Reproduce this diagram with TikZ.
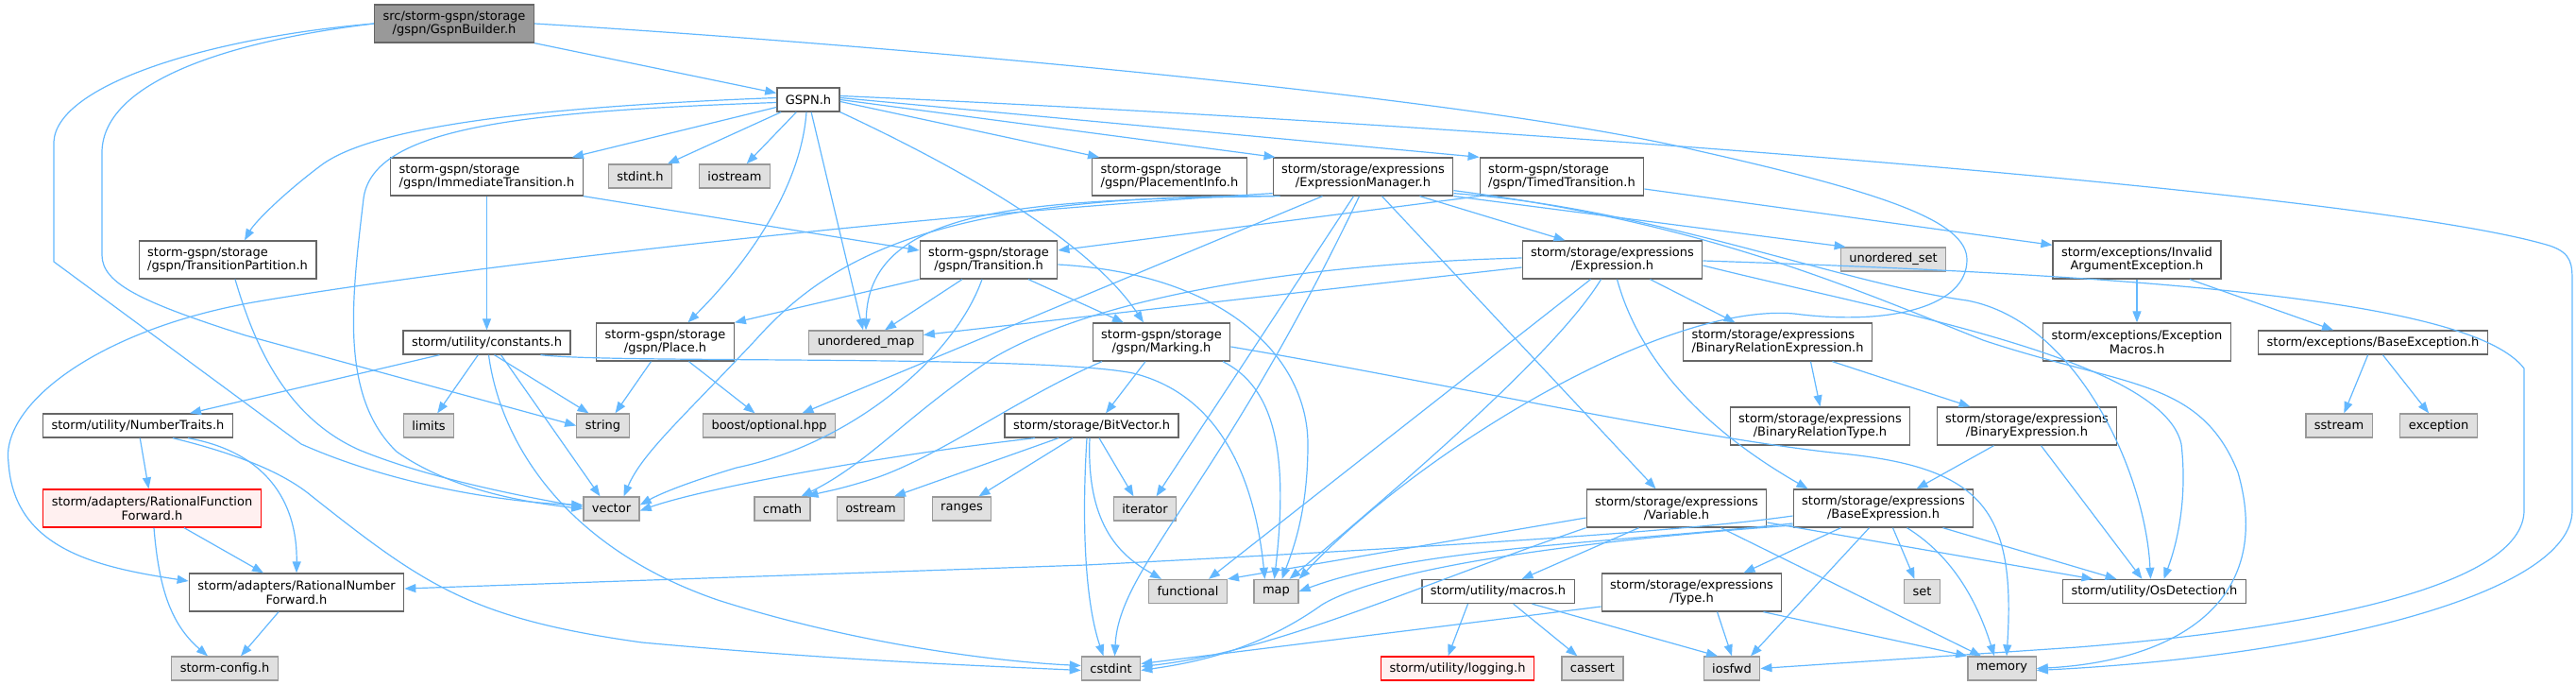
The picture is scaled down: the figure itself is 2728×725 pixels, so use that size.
\documentclass[tikz,border=0pt]{standalone}
\usepackage{fontspec}
\newfontfamily\dotfont{DejaVu Sans}
\usepackage{tikz}
\usetikzlibrary{arrows.meta,positioning}
\definecolor{edg}{HTML}{63B8FF}
\definecolor{bord}{HTML}{666666}
\definecolor{sysb}{HTML}{999999}
\definecolor{sysf}{HTML}{E0E0E0}
\definecolor{rootf}{HTML}{999999}
\definecolor{trf}{HTML}{FFF0F0}
\definecolor{trb}{HTML}{FF0000}
\tikzset{
  >={Triangle[length=12pt,width=9pt]},
  hdr/.style={draw=bord, line width=1.3pt, fill=white, font=\dotfont\fontsize{13}{14.5}\selectfont,
              inner xsep=9pt, inner ysep=3pt, minimum height=25pt},
  two/.style={hdr, align=center, minimum height=40pt},
  twol/.style={hdr, align=left, minimum height=40pt},
  sys/.style={hdr, fill=sysf, draw=sysb},
  root/.style={two, fill=rootf},
  trunc/.style={fill=trf, draw=trb},
  dep/.style={->, draw=edg, line width=1.2pt},
}
\begin{document}
\begin{tikzpicture}[x=1pt,y=-1pt]
  \useasboundingbox (0,0) rectangle (2728,725);
  % files
  \node[root] (gb) at (481,25) {src/storm-gspn/storage\\/gspn/GspnBuilder.h};
  \node[hdr] (gspn) at (856,105.5) {GSPN.h};
  \node[twol] (imtr) at (515.5,187) {storm-gspn/storage\\/gspn/ImmediateTransition.h};
  \node[sys] (stdint) at (678,186.5) {stdint.h};
  \node[sys] (iostream) at (778,186.5) {iostream};
  \node[twol] (plinfo) at (1238.5,187) {storm-gspn/storage\\/gspn/PlacementInfo.h};
  \node[two] (exman) at (1443.5,187) {storm/storage/expressions\\/ExpressionManager.h};
  \node[twol] (timtr) at (1654,187) {storm-gspn/storage\\/gspn/TimedTransition.h};
  \node[twol] (trpart) at (241,275) {storm-gspn/storage\\/gspn/TransitionPartition.h};
  \node[two] (trans) at (1047,275) {storm-gspn/storage\\/gspn/Transition.h};
  \node[two] (expr) at (1707.5,275) {storm/storage/expressions\\/Expression.h};
  \node[sys] (uset) at (2005,274.5) {unordered\_set};
  \node[two] (invarg) at (2263,275) {storm/exceptions/Invalid\\ArgumentException.h};
  \node[hdr] (consts) at (515.5,362.5) {storm/utility/constants.h};
  \node[two] (place) at (704.5,362) {storm-gspn/storage\\/gspn/Place.h};
  \node[sys] (umap) at (917,362.5) {unordered\_map};
  \node[two] (marking) at (1230,362) {storm-gspn/storage\\/gspn/Marking.h};
  \node[twol] (brexpr) at (1882.5,362) {storm/storage/expressions\\/BinaryRelationExpression.h};
  \node[two] (excmac) at (2263,362) {storm/exceptions/Exception\\Macros.h};
  \node[hdr] (baseexc) at (2513,362.5) {storm/exceptions/BaseException.h};
  \node[hdr] (numtr) at (146,450.5) {storm/utility/NumberTraits.h};
  \node[sys] (limits) at (454,450.5) {limits};
  \node[sys] (string) at (638.5,450.5) {string};
  \node[sys] (boost) at (814.5,450.5) {boost/optional.hpp};
  \node[hdr] (bitvec) at (1156,450.5) {storm/storage/BitVector.h};
  \node[two] (brtype) at (1927.5,451) {storm/storage/expressions\\/BinaryRelationType.h};
  \node[two] (binexpr) at (2146.5,451) {storm/storage/expressions\\/BinaryExpression.h};
  \node[sys] (sstream) at (2477,450.5) {sstream};
  \node[sys] (exception) at (2582.5,450.5) {exception};
  \node[two,trunc] (ratfun) at (161,538) {storm/adapters/RationalFunction\\Forward.h};
  \node[sys] (vector) at (647.5,538.5) {vector};
  \node[sys] (cmath) at (828.5,538.5) {cmath};
  \node[sys] (ostream) at (922,538.5) {ostream};
  \node[sys] (ranges) at (1018.5,538.5) {ranges};
  \node[sys] (iterator) at (1212.5,538.5) {iterator};
  \node[two] (variable) at (1775.5,538) {storm/storage/expressions\\/Variable.h};
  \node[two] (baseexpr) at (1994.5,538) {storm/storage/expressions\\/BaseExpression.h};
  \node[two] (ratnum) at (314,627) {storm/adapters/RationalNumber\\Forward.h};
  \node[sys] (functional) at (1258,626) {functional};
  \node[sys] (map) at (1351.5,626) {map};
  \node[hdr] (macros) at (1586.5,626) {storm/utility/macros.h};
  \node[two] (type) at (1791.5,627) {storm/storage/expressions\\/Type.h};
  \node[sys] (set) at (2035.5,626) {set};
  \node[hdr] (osdet) at (2281.5,626) {storm/utility/OsDetection.h};
  \node[sys] (stormcfg) at (238,707.5) {storm-config.h};
  \node[sys] (cstdint) at (1176.5,707.5) {cstdint};
  \node[hdr,trunc] (logging) at (1543.5,707.5) {storm/utility/logging.h};
  \node[sys] (cassert) at (1686.5,707.5) {cassert};
  \node[sys] (iosfwd) at (1834,707.5) {iosfwd};
  \node[sys] (memory) at (2120,707.5) {memory};
  % GspnBuilder.h
  \draw[dep] (gb.south east) -- (gspn);
  \draw[dep] (gb.west) .. controls (220,40) and (60,90) .. (57,150) -- (57,277) -- (319,470)
    .. controls (420,515) and (540,532) .. ([yshift=4pt]vector.west);
  \draw[dep] (gb.west) .. controls (230,45) and (110,90) .. (108,160) -- (108,270)
    .. controls (108,300) and (150,320) .. (260,355) -- (string.west);
  \draw[dep] (gb.east) .. controls (900,45) and (1550,100) .. (1800,160)
    .. controls (2000,205) and (2083,235) .. (2083,275) .. controls (2083,325) and (2000,345) .. (1900,332)
    .. controls (1760,320) and (1500,480) .. (map.north east);
  % GSPN.h
  \draw[dep] ([yshift=2pt]gspn.west) .. controls (600,112) and (400,130) .. (340,175)
    .. controls (300,205) and (270,235) .. ([xshift=18pt]trpart.north);
  \draw[dep] ([yshift=-3pt]gspn.west) .. controls (550,118) and (395,135) .. (385,210)
    .. controls (372,320) and (360,420) .. (420,478) .. controls (480,520) and (560,532) .. (vector.west);
  \draw[dep] ([yshift=-8pt]gspn.west) -- ([xshift=-12pt]imtr.north east);
  \draw[dep] (gspn) -- (stdint);
  \draw[dep] (gspn) -- (iostream);
  \draw[dep] ([xshift=-2pt]gspn.south) .. controls (848,200) and (790,280) .. ([xshift=24pt]place.north);
  \draw[dep] (gspn) -- ([xshift=-3pt]umap.north);
  \draw[dep] (gspn.south east) .. controls (1000,170) and (1150,250) .. ([xshift=-19pt]marking.north);
  \draw[dep] ([yshift=-2pt]gspn.east) -- ([xshift=8pt]plinfo.north west);
  \draw[dep] (gspn.east) -- ([xshift=3pt]exman.north west);
  \draw[dep] ([yshift=2pt]gspn.east) -- (timtr.north west);
  \draw[dep] ([yshift=4pt]gspn.east) .. controls (1500,128) and (2500,200) .. (2700,260)
    .. controls (2724,268) and (2724,280) .. (2724,300) -- (2724,540)
    .. controls (2724,630) and (2450,695) .. ([yshift=-2pt]memory.east);
  % ImmediateTransition.h, TransitionPartition.h, TimedTransition.h
  \draw[dep] (imtr) -- (consts);
  \draw[dep] (imtr.south east) -- ([yshift=10pt]trans.west);
  \draw[dep] ([xshift=8pt]trpart.south) .. controls (268,360) and (300,440) .. (380,476)
    .. controls (450,505) and (550,525) .. ([yshift=2pt]vector.west);
  \draw[dep] (timtr.south west) -- ([yshift=10pt]trans.east);
  \draw[dep] ([yshift=-13pt]timtr.east) -- ([yshift=-5pt]invarg.north west);
  % ExpressionManager.h
  \draw[dep] ([xshift=60pt]exman.south) -- ([xshift=-50pt]expr.north);
  \draw[dep] ([xshift=20pt]exman.south) -- ([xshift=-22pt]variable.north);
  \draw[dep] ([xshift=-10pt]exman.south) -- ([xshift=12pt]iterator.north);
  \draw[dep] ([xshift=-4pt]exman.south) .. controls (1290,520) and (1185,600) .. ([xshift=4pt]cstdint.north);
  \draw[dep] ([xshift=2pt]exman.south west) .. controls (1100,212) and (920,215) .. (umap.north);
  \draw[dep] ([xshift=8pt]exman.south west) .. controls (1000,205) and (880,270) .. (800,360)
    .. controls (720,445) and (680,480) .. ([xshift=13pt]vector.north);
  \draw[dep] ([xshift=-43pt]exman.south) -- ([xshift=35pt]boost.north);
  \draw[dep] ([yshift=3pt]exman.south west) .. controls (1000,225) and (500,280) .. (268,320)
    .. controls (100,350) and (0,430) .. (9,490) .. controls (15,580) and (100,600) .. ([yshift=12pt]ratnum.west);
  \draw[dep] (exman.south east) -- ([xshift=6pt]uset.north west);
  \draw[dep] ([yshift=3pt]exman.south east) .. controls (1750,220) and (1950,300) .. (2083,318)
    .. controls (2200,340) and (2272,500) .. ([xshift=-4pt]osdet.north);
  \draw[dep] ([yshift=6pt]exman.south east) .. controls (1800,235) and (1950,300) .. (2100,360)
    .. controls (2250,410) and (2330,400) .. (2370,500) .. controls (2410,640) and (2300,700) .. (memory.east);
  % Expression.h
  \draw[dep] ([yshift=-8pt]expr.west) -- ([yshift=8pt]umap.east);
  \draw[dep] ([yshift=2pt]expr.west) .. controls (1350,280) and (1150,320) .. (1050,380)
    .. controls (960,440) and (920,490) .. ([xshift=20pt]cmath.north);
  \draw[dep] ([xshift=40pt]expr.south) -- ([xshift=-45pt]brexpr.north);
  \draw[dep] ([xshift=5pt]expr.south) .. controls (1730,360) and (1780,440) .. ([xshift=-80pt]baseexpr.north);
  \draw[dep] ([xshift=-23pt]expr.south) -- ([xshift=22pt]functional.north);
  \draw[dep] ([xshift=-12pt]expr.south) .. controls (1650,370) and (1500,500) .. ([xshift=14pt]map.north);
  \draw[dep] ([yshift=-6pt]expr.east) .. controls (2000,330) and (2290,380) .. (2310,470)
    .. controls (2318,540) and (2300,590) .. ([xshift=10pt]osdet.north);
  \draw[dep] ([yshift=-1pt]expr.east) .. controls (2300,292) and (2620,320) .. (2673,390) -- (2673,540)
    .. controls (2673,620) and (2450,665) .. (2200,685) -- (iosfwd.east);
  % exceptions
  \draw[dep] (invarg) -- (excmac);
  \draw[dep] ([xshift=56pt]invarg.south) -- ([xshift=-42pt]baseexc.north);
  \draw[dep] (baseexc) -- (sstream);
  \draw[dep] (baseexc) -- (exception);
  % constants.h
  \draw[dep] ([xshift=-50pt]consts.south) -- ([xshift=55pt]numtr.north);
  \draw[dep] (consts) -- (limits);
  \draw[dep] ([xshift=8pt]consts.south) -- ([xshift=-15pt]string.north);
  \draw[dep] ([xshift=15pt]consts.south) -- ([xshift=-12pt]vector.north);
  \draw[dep] ([xshift=2pt]consts.south) .. controls (530,470) and (600,580) .. (760,635)
    .. controls (900,680) and (1050,700) .. ([yshift=3pt]cstdint.west);
  \draw[dep] ([xshift=57pt]consts.south) .. controls (650,385) and (1100,375) .. (1200,395)
    .. controls (1300,420) and (1330,520) .. ([xshift=-12pt]map.north);
  % NumberTraits.h, adapters
  \draw[dep] (numtr) -- (ratfun);
  \draw[dep] ([xshift=53pt]numtr.south) .. controls (290,480) and (315,540) .. (ratnum.north);
  \draw[dep] ([xshift=37pt]numtr.south) .. controls (250,480) and (300,500) .. (330,525)
    .. controls (450,620) and (500,655) .. (680,680) .. controls (900,700) and (1050,705) .. ([yshift=-2pt]cstdint.west);
  \draw[dep] ([xshift=34pt]ratfun.south) -- ([xshift=-35pt]ratnum.north);
  \draw[dep] ([xshift=2pt]ratfun.south) .. controls (168,620) and (180,660) .. ([xshift=-18pt]stormcfg.north);
  \draw[dep] ([xshift=-19pt]ratnum.south) -- ([xshift=17pt]stormcfg.north);
  % Place.h, Transition.h
  \draw[dep] ([xshift=-15pt]place.south) -- ([xshift=13pt]string.north);
  \draw[dep] ([xshift=25pt]place.south) -- ([xshift=-15pt]boost.north);
  \draw[dep] (trans.south west) -- (place.north east);
  \draw[dep] ([xshift=-28pt]trans.south) -- ([xshift=20pt]umap.north);
  \draw[dep] ([xshift=-7pt]trans.south) .. controls (1010,380) and (900,470) .. (780,495)
    .. controls (730,510) and (700,522) .. ([yshift=4pt]vector.east);
  \draw[dep] ([xshift=42pt]trans.south) -- ([xshift=-40pt]marking.north);
  \draw[dep] ([yshift=-5pt]trans.east) .. controls (1300,290) and (1385,380) .. (1385,470)
    .. controls (1385,540) and (1370,580) .. ([xshift=6pt]map.north);
  % Marking.h
  \draw[dep] ([xshift=-17pt]marking.south) -- ([xshift=15pt]bitvec.north);
  \draw[dep] ([xshift=65pt]marking.south) .. controls (1350,410) and (1365,480) .. ([xshift=-2pt]map.north);
  \draw[dep] ([yshift=-5pt]marking.east) .. controls (1500,400) and (1800,465) .. (1950,480)
    .. controls (2100,495) and (2135,540) .. ([xshift=5pt]memory.north);
  \draw[dep] ([xshift=-63pt]marking.south) .. controls (1080,420) and (1000,480) .. (930,505)
    .. controls (890,518) and (875,520) .. ([xshift=26pt]cmath.north);
  % BitVector.h
  \draw[dep] ([xshift=-60pt]bitvec.south) .. controls (950,480) and (750,515) .. ([yshift=-2pt]vector.east);
  \draw[dep] ([xshift=-35pt]bitvec.south) -- ([xshift=25pt]ostream.north);
  \draw[dep] ([xshift=-20pt]bitvec.south) -- ([xshift=18pt]ranges.north);
  \draw[dep] ([xshift=8pt]bitvec.south) -- ([xshift=-12pt]iterator.north);
  \draw[dep] ([xshift=-2pt]bitvec.south) .. controls (1150,560) and (1190,590) .. ([xshift=-28pt]functional.north);
  \draw[dep] ([xshift=-5pt]bitvec.south) .. controls (1145,560) and (1150,640) .. ([xshift=-8pt]cstdint.north);
  % expressions
  \draw[dep] ([xshift=35pt]brexpr.south) -- (brtype.north);
  \draw[dep] ([xshift=58pt]brexpr.south) -- ([xshift=-60pt]binexpr.north);
  \draw[dep] ([xshift=-35pt]binexpr.south) -- ([xshift=35pt]baseexpr.north);
  \draw[dep] ([xshift=15pt]binexpr.south) -- ([xshift=-13pt]osdet.north);
  \draw[dep] ([yshift=-10pt]variable.west) -- (functional.north east);
  \draw[dep] (variable.south west) .. controls (1500,620) and (1350,690) .. ([yshift=2pt]cstdint.east);
  \draw[dep] ([xshift=-40pt]variable.south) -- ([xshift=25pt]macros.north);
  \draw[dep] ([xshift=47pt]variable.south) -- ([xshift=-22pt]memory.north);
  \draw[dep] ([yshift=-15pt]variable.east) -- ([xshift=-65pt]osdet.north);
  \draw[dep] ([xshift=-45pt]baseexpr.south) -- ([xshift=55pt]type.north);
  \draw[dep] ([xshift=-15pt]baseexpr.south) -- ([xshift=20pt]iosfwd.north);
  \draw[dep] ([xshift=10pt]baseexpr.south) -- ([xshift=-8pt]set.north);
  \draw[dep] ([xshift=25pt]baseexpr.south) .. controls (2070,590) and (2095,640) .. ([xshift=-8pt]memory.north);
  \draw[dep] ([xshift=63pt]baseexpr.south) -- ([xshift=-40pt]osdet.north);
  \draw[dep] ([yshift=-16pt]baseexpr.west) .. controls (1700,575) and (1500,580) .. (map.east);
  \draw[dep] ([yshift=-18pt]baseexpr.west) .. controls (1600,578) and (1450,610) .. (1400,640)
    .. controls (1330,690) and (1260,702) .. ([yshift=-2pt]cstdint.east);
  \draw[dep] ([yshift=-8pt]baseexpr.west) .. controls (1800,560) and (1600,575) .. (1150,598) -- ([yshift=4pt]ratnum.east);
  \draw[dep] ([yshift=-15pt]type.west) -- ([yshift=5pt]cstdint.east);
  \draw[dep] ([xshift=27pt]type.south) -- (iosfwd.north);
  \draw[dep] ([xshift=-20pt]type.south east) -- (memory.north west);
  % macros.h
  \draw[dep] ([xshift=-32pt]macros.south) -- ([xshift=-10pt]logging.north);
  \draw[dep] (macros) -- (cassert);
  \draw[dep] ([xshift=36pt]macros.south) -- ([xshift=-15pt]iosfwd.north);
\end{tikzpicture}
\end{document}
